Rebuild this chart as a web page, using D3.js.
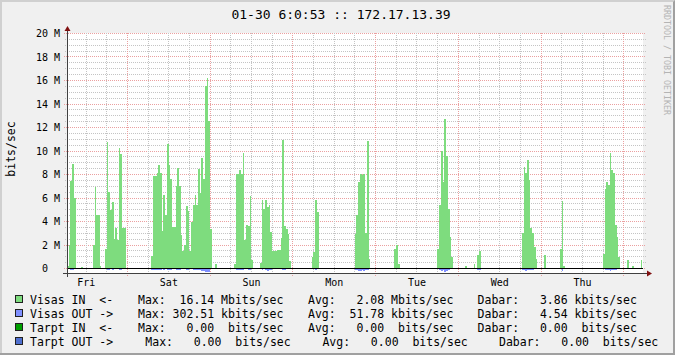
<!DOCTYPE html>
<html><head><meta charset="utf-8">
<script src="https://cdn.jsdelivr.net/npm/d3@7"></script>
<style>
html,body{margin:0;padding:0;background:#F0F0F0;}
svg{display:block;font-family:"DejaVu Sans Mono",monospace;}
text{white-space:pre;}
</style></head><body>
<svg id="chart" width="675" height="355"></svg>
<script>
// ---------- data ----------
const title = "01-30 6:0:53 :: 172.17.13.39";
const yAxisLabel = "bits/sec";
const watermark = "RRDTOOL / TOBI OETIKER";
const stepMinutes = 30;
const startTime = new Date(2009, 0, 23, 6, 26);
const endTime = new Date(2009, 0, 30, 5, 35);
const yTicks = [0, 2, 4, 6, 8, 10, 12, 14, 16, 18, 20];
const yTickLabels = ["0  ", "2 M", "4 M", "6 M", "8 M", "10 M", "12 M", "14 M", "16 M", "18 M", "20 M"];
const dayLabels = ["Fri", "Sat", "Sun", "Mon", "Tue", "Wed", "Thu"];

// Visas IN, Mbit/s, one value per 30 min step
const inValues = [
  0.15,2,7.4,8.85,6,0,0,0, 0.1,0,0,0,0,0,0,2, 6.9,4.5,4.5,0.2,0,0,1.6,10.7, 6.5,4.9,5.6,2.5,3.4,2.4,10.2,9.7, 3.4,3.4,0,0,0,0,0,0, 0,0,0,0,0,0,0,0,
  0,1.0,7.8,7.8,8.1,8.77,8.1,3.15, 6.2,4.5,10.55,8.77,7.6,3.5,3.5,7.0, 8.5,7.0,2.8,1.45,1.96,5.3,4.85,1.45, 3.9,5.4,6.2,5.4,8.4,6.35,9.4,7.6, 15.5,16.14,12.5,3.3,0,0,0.3,0, 0,0,0,0,0,0,0,0,
  0,0.3,8.0,8.0,8.3,8.0,9.8,2.4, 3.66,3.6,6.1,0.7,0,0,0,0, 0.45,5.8,5.0,5.8,5.2,5.4,3.1,1.45, 1.45,1.45,1.5,1.5,2.55,10.9,3.6,3.3, 2.9,0.6,0,0,0,0,0,0, 0,0,0,0,0,0,0.96,1.4,
  5.8,4.8,0,0,0,0,0,0, 0,0,0,0,0,0,0,0, 0,0,0,0,0,0,0,2.9, 4.5,7.3,8.0,7.9,8.0,3.0,10.8,0.8, 0,0,0,0,0,0,0,0, 0,0,0,0,0,0,1.6,1.96,
  0.3,0,0,0,0,0,0,0, 0,0,0,0,0,0,0,0, 0,0,0,0,0,0,0,1.6, 5.4,10.0,7.3,12.7,9.5,5.0,2.6,0.96, 0,0,0,0,0,0,0,0.2, 0,0,0,0,0.3,0,1.1,1.45,
  0,0,0,0,0,0,0,0, 0,0,0,0,0,0,0,0, 0,0,0,0,0,0,0,0, 2.95,8.6,8.1,9.2,7.5,3.4,3.0,1.76, 0.8,0,0,0,0,1.1,0,0, 0,0,0,0,0,0,1.6,5.7,
  0.2,0,0,0,0,0,0,0, 0,0,0,0,0,0,0,0, 0,0,0,0,0,0,0,1.2, 6.7,7.35,7.1,9.76,8.3,8.06,3.66,2.6, 0.96,0,0,0,0,0.7,0,0, 0.2,0,0,0,0,0.7,0
];
// Visas OUT, Mbit/s, drawn below zero
const outValues = [
  0.05,0.1,0.15,0.15,0.1,0,0,0, 0.1,0,0,0,0,0,0,0.08, 0.12,0.1,0.05,0,0,0,0.1,0.2, 0.15,0.1,0.15,0.1,0.12,0.1,0.15,0.15, 0.1,0.1,0,0,0,0,0,0, 0,0,0,0,0,0,0,0,
  0,0.2,0.2,0.2,0.2,0.15,0.2,0.1, 0.15,0.1,0.2,0.15,0.2,0.1,0.12,0.15, 0.2,0.15,0.1,0.08,0.1,0.15,0.15,0.08, 0.12,0.2,0.2,0.2,0.2,0.15,0.25,0.25, 0.3,0.3,0.3,0.1,0,0,0.05,0, 0,0.1,0,0,0,0,0,0,
  0,0,0.2,0.2,0.15,0.2,0.2,0.1, 0.1,0.2,0.15,0.05,0,0,0,0, 0,0.15,0.1,0.15,0.25,0.2,0.2,0.05, 0.05,0.05,0,0,0.1,0.2,0.15,0.1, 0.1,0,0,0,0,0,0,0, 0,0,0,0,0,0,0.05,0.1,
  0.15,0.1,0,0,0,0,0,0, 0,0,0,0,0,0,0,0, 0,0,0,0,0,0,0,0.15, 0.2,0.25,0.25,0.2,0.25,0.15,0.2,0.05, 0,0,0,0,0,0,0,0.1, 0,0,0,0,0,0,0.05,0.1,
  0,0,0,0,0,0,0,0, 0,0,0,0,0,0,0,0, 0,0,0,0,0,0,0,0.1, 0.2,0.25,0.2,0.3,0.25,0.2,0.1,0.05, 0,0,0,0,0,0,0,0, 0,0,0,0,0,0,0.15,0.2,
  0,0,0,0,0,0,0,0, 0,0,0,0,0,0,0,0, 0,0,0,0,0,0,0,0, 0.15,0.2,0.25,0.2,0.2,0.15,0.15,0.1, 0.05,0,0,0,0,0,0,0, 0,0,0.1,0,0,0,0.1,0.25,
  0,0,0,0,0,0,0,0, 0,0,0,0,0,0,0,0, 0,0,0,0,0,0,0,0.1, 0.15,0.2,0.2,0.25,0.2,0.2,0.15,0.1, 0,0,0,0,0,0,0,0, 0,0,0,0,0,0,0
];

const seriesNames = ["Visas IN  <-", "Visas OUT ->", "Tarpt IN  <-", "Tarpt OUT ->"];
const seriesColors = ["#7EDC7E", "#8090FF", "#00A000", "#4F6FCF"];
const maxValues = [16.14, 302.51, 0, 0];
const maxUnits = ["M", "k", " ", " "];
const avgValues = [2.08, 51.78, 0, 0];
const avgUnits = ["M", "k", " ", " "];
const curValues = [3.86, 4.54, 0, 0];
const curUnits = ["k", "k", " ", " "];

// ---------- drawing ----------
const W = 675, H = 355;
const X0 = 67, X1 = 643, YTOP = 33, YZERO = 268, YBOT = 273;
const svg = d3.select("#chart");

svg.append("rect").attr("width", W).attr("height", H).attr("fill", "#F0F0F0");
// 3D shade frame
svg.append("path").attr("d", `M0,${H} V0 H${W} V2 H2 V${H-2} H0 Z`).attr("fill", "#D0D0D0");
svg.append("path").attr("d", `M${W},0 V${H} H0 V${H-2} H${W-2} V2 Z`).attr("fill", "#A0A0A0");

const xScale = d3.scaleTime().domain([startTime, endTime]).range([X0, X1]);
const yScale = d3.scaleLinear().domain([0, 20]).range([YZERO, YTOP]);

// canvas
svg.append("rect").attr("x", X0).attr("y", YTOP).attr("width", X1 - X0).attr("height", YBOT - YTOP).attr("fill", "#FFFFFF");

const grid = svg.append("g").attr("shape-rendering", "crispEdges").attr("fill", "none");
const minorCol = "#C4C4C4", majorCol = "#EBA0A0";
// horizontal grid
d3.range(0, 20.01, 0.5).forEach(v => {
  const major = Math.abs(v % 2) < 1e-9;
  const y = Math.round(yScale(v)) + 0.5;
  grid.append("line").attr("x1", major ? 64 : 65).attr("x2", X1 + 3).attr("y1", y).attr("y2", y)
    .attr("stroke", major ? majorCol : minorCol).attr("stroke-dasharray", "1,1");
});
// vertical grid
const sixHours = d3.timeHour.every(6).range(startTime, endTime);
sixHours.forEach(t => {
  const major = t.getHours() === 0;
  const x = Math.floor(xScale(t)) + 0.5;
  grid.append("line").attr("x1", x).attr("x2", x).attr("y1", YTOP).attr("y2", YBOT + (major ? 3 : 2))
    .attr("stroke", major ? majorCol : minorCol).attr("stroke-dasharray", "1,1");
});

// data
const t0 = startTime.getTime();
const stepMs = stepMinutes * 60000;
const pts = inValues.map((v, i) => ({t: new Date(t0 + i * stepMs), vin: v, vout: outValues[i]}));
pts.push({t: new Date(t0 + inValues.length * stepMs), vin: inValues[inValues.length - 1], vout: outValues[outValues.length - 1]});

svg.append("clipPath").attr("id", "plotclip").append("rect")
  .attr("x", X0 + 1).attr("y", YTOP - 5).attr("width", X1 - X0 - 1).attr("height", YBOT - YTOP + 5);
const plot = svg.append("g").attr("clip-path", "url(#plotclip)").attr("shape-rendering", "crispEdges");

const areaIn = d3.area().x(d => xScale(d.t)).y0(yScale(0)).y1(d => yScale(d.vin)).curve(d3.curveStepAfter);
const areaOut = d3.area().x(d => xScale(d.t)).y0(yScale(0)).y1(d => yScale(-d.vout)).curve(d3.curveStepAfter);
plot.append("path").attr("d", areaIn(pts)).attr("fill", seriesColors[0]);
plot.append("path").attr("d", areaOut(pts)).attr("fill", seriesColors[1]);

// zero rule
svg.append("line").attr("x1", X0).attr("x2", X1).attr("y1", YZERO + 0.5).attr("y2", YZERO + 0.5)
  .attr("stroke", "#000").attr("shape-rendering", "crispEdges");

// axes
const axisCol = "#404040", arrowCol = "#801010";
svg.append("line").attr("x1", X0 + 0.5).attr("x2", X0 + 0.5).attr("y1", YBOT + 4).attr("y2", YTOP - 3)
  .attr("stroke", axisCol).attr("shape-rendering", "crispEdges");
svg.append("line").attr("x1", X0 - 4).attr("x2", X1 + 4).attr("y1", YBOT + 0.5).attr("y2", YBOT + 0.5)
  .attr("stroke", axisCol).attr("shape-rendering", "crispEdges");
svg.append("path").attr("d", `M${X0 + 0.5},${YTOP - 7} L${X0 - 2.5},${YTOP - 2} L${X0 + 3.5},${YTOP - 2} Z`).attr("fill", arrowCol);
svg.append("path").attr("d", `M${X1 + 9},${YBOT + 0.5} L${X1 + 4},${YBOT - 2.5} L${X1 + 4},${YBOT + 3.5} Z`).attr("fill", arrowCol);

// y tick labels
svg.append("g").selectAll("text").data(yTicks).join("text")
  .attr("x", 60).attr("y", d => yScale(d) + 4).attr("text-anchor", "end")
  .attr("font-size", 10).attr("fill", "#000").attr("xml:space", "preserve")
  .text((d, i) => yTickLabels[i]);

// day labels at noon
const noons = d3.timeDay.range(d3.timeDay.floor(startTime), endTime).map(d => d3.timeHour.offset(d, 12))
  .filter(d => d >= startTime && d <= endTime);
svg.append("g").selectAll("text").data(noons).join("text")
  .attr("x", d => xScale(d)).attr("y", 285.5).attr("text-anchor", "middle")
  .attr("font-size", 10).attr("fill", "#000")
  .text((d, i) => dayLabels[i]);

// title
svg.append("text").attr("x", 341).attr("y", 19).attr("text-anchor", "middle")
  .attr("font-size", 13).attr("fill", "#000").text(title);

// y axis unit label
svg.append("text").attr("transform", "translate(15,149) rotate(-90)").attr("text-anchor", "middle")
  .attr("font-size", 11.5).attr("fill", "#000").text(yAxisLabel);

// watermark
svg.append("text").attr("transform", "translate(663.5,5) rotate(90)")
  .attr("font-size", 8.3).attr("fill", "#B4B4B4").text(watermark);

// legend
const legendX = [[138, 308, 477.6], [138, 308, 477.6], [138, 308, 477.6], [145.3, 322.4, 499]];
const fmt = (v, u) => v.toFixed(2).padStart(7) + " " + u + "bits/sec";
const lg = svg.append("g").attr("font-size", 11.5).attr("fill", "#000");
seriesNames.forEach((name, i) => {
  const by = 303.5 + i * 14;
  lg.append("rect").attr("x", 15.5).attr("y", by - 8).attr("width", 7).attr("height", 7)
    .attr("fill", seriesColors[i]).attr("stroke", "#202020").attr("shape-rendering", "crispEdges");
  lg.append("text").attr("x", 30).attr("y", by).attr("xml:space", "preserve").text(name);
  lg.append("text").attr("x", legendX[i][0]).attr("y", by).attr("xml:space", "preserve").text("Max:" + fmt(maxValues[i], maxUnits[i]));
  lg.append("text").attr("x", legendX[i][1]).attr("y", by).attr("xml:space", "preserve").text("Avg:" + fmt(avgValues[i], avgUnits[i]));
  lg.append("text").attr("x", legendX[i][2]).attr("y", by).attr("xml:space", "preserve").text("Dabar:" + fmt(curValues[i], curUnits[i]));
});
</script>
</body></html>
